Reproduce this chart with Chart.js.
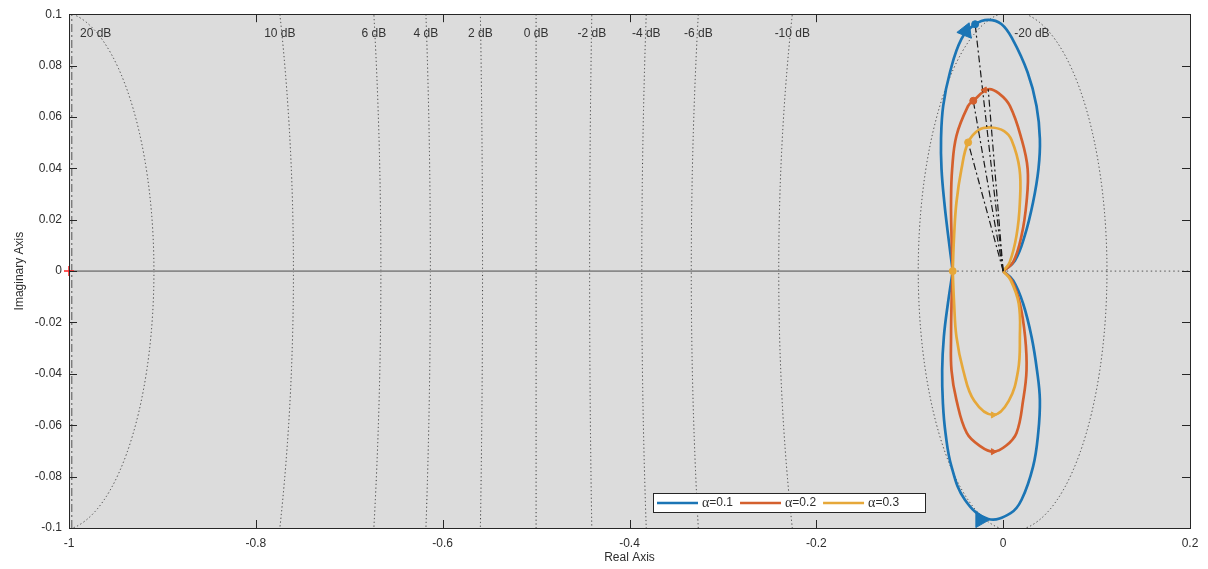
<!DOCTYPE html>
<html>
<head>
<meta charset="utf-8">
<script src="https://cdn.jsdelivr.net/npm/chart.js@4"></script>
<style>
html,body{margin:0;padding:0;background:#fff;}
</style>
</head>
<body>
<canvas id="myChart" width="1208" height="569"></canvas>
<script>
// axis ticks
var xTicks = [-1, -0.8, -0.6, -0.4, -0.2, 0, 0.2];
var yTicks = [-0.1, -0.08, -0.06, -0.04, -0.02, 0, 0.02, 0.04, 0.06, 0.08, 0.1];

// constant gain circles (dB)
var mLevels = [20, 10, 6, 4, 2, 0, -2, -4, -6, -10, -20];

var seriesNames = ['α=0.1', 'α=0.2', 'α=0.3'];

// curves [re, im]
var a01_upper = [[-0.054,0],[-0.0589,0.0139],[-0.063,0.0268],[-0.066,0.0398],[-0.0665,0.0515],[-0.0642,0.0643],[-0.057,0.0773],[-0.0446,0.0904],[-0.030,0.0961],[-0.016,0.0978],[-0.002,0.0962],[0.010,0.0903],[0.0262,0.0773],[0.0357,0.0643],[0.0393,0.0515],[0.0378,0.0398],[0.032,0.0268],[0.0232,0.0139],[0.0125,0.0040],[0,0]];
var a01_lower = [[-0.054,0],[-0.0592,-0.0127],[-0.0635,-0.0256],[-0.0653,-0.0386],[-0.0645,-0.0515],[-0.0617,-0.0631],[-0.0553,-0.0761],[-0.041,-0.089],[-0.016,-0.0965],[0.008,-0.0942],[0.0197,-0.089],[0.032,-0.0761],[0.0375,-0.0631],[0.0393,-0.0502],[0.0362,-0.0386],[0.0304,-0.0256],[0.0214,-0.0127],[0.0107,-0.0036],[0,0]];
var a02_upper = [[-0.054,0],[-0.0553,0.0139],[-0.0558,0.0268],[-0.0546,0.0398],[-0.050,0.0527],[-0.0375,0.0643],[-0.032,0.0663],[-0.016,0.0708],[-0.004,0.069],[0.0072,0.0643],[0.0197,0.0514],[0.0262,0.0398],[0.025,0.0268],[0.0197,0.0139],[0.0107,0.0035],[0,0]];
var a02_lower = [[-0.054,0],[-0.0553,-0.0127],[-0.0558,-0.0256],[-0.0553,-0.0386],[-0.050,-0.0502],[-0.039,-0.063],[-0.025,-0.068],[-0.0107,-0.0703],[0.003,-0.068],[0.0143,-0.063],[0.0214,-0.0502],[0.025,-0.0386],[0.0235,-0.0256],[0.0179,-0.0127],[0.009,-0.0035],[0,0]];
var a03_upper = [[-0.054,0],[-0.0525,0.0139],[-0.050,0.0268],[-0.0446,0.0398],[-0.0375,0.0501],[-0.026,0.055],[-0.0124,0.0559],[0.001,0.0545],[0.009,0.051],[0.0175,0.0398],[0.0179,0.0268],[0.0143,0.0139],[0.007,0.0035],[0,0]];
var a03_lower = [[-0.054,0],[-0.0525,-0.0127],[-0.050,-0.0256],[-0.0428,-0.0386],[-0.031,-0.0505],[-0.0107,-0.056],[0.006,-0.0505],[0.016,-0.0386],[0.0179,-0.0256],[0.0167,-0.0127],[0.008,-0.0035],[0,0]];

// marked points and arrows
var a01_dots = [[-0.030,0.0961]];
var a02_dots = [[-0.032,0.0663]];
var a03_dots = [[-0.0375,0.0501],[-0.054,0]];
var a01_arrows = [[-0.040,0.0934],[-0.0244,-0.0968]];
var a02_arrows = [[-0.0107,-0.0703],[-0.020,0.0705]];
var a03_arrows = [[-0.0107,-0.056]];

// reference lines
var origin = [0, 0];
var criticalPoint = [[-1, 0]];
var realAxisSolid = [[-1,0],[-0.054,0]];
var realAxisDotted = [[-0.054,0],[0.2,0]];
var leftDashDot = [[-0.997,-0.1],[-0.997,0.1]];

var colors = ['#1b75b5', '#d4602e', '#e6a83a'];
var txtColor = '#2e2e2e';

function pts(list) {
  return list.map(function(p){ return {x: p[0], y: p[1]}; });
}
function fmt(v) {
  return String(Math.round(v * 100) / 100);
}

function curve(list, col, ord) {
  return {data: pts(list), showLine: true, borderColor: col, borderWidth: 2.7, pointRadius: 0, tension: 0.4, fill: false, order: ord};
}
function spoke(p) {
  return {data: pts([origin, p]), showLine: true, borderColor: '#1a1a1a', borderWidth: 1.2, borderDash: [7, 3, 2, 3], pointRadius: 0, order: 0.5};
}

var dataset = [
  {data: pts(realAxisSolid), showLine: true, borderColor: '#8a8a8a', borderWidth: 1.6, pointRadius: 0, order: 10},
  {data: pts(realAxisDotted), showLine: true, borderColor: '#555', borderWidth: 1, borderDash: [1.5, 3], pointRadius: 0, order: 10},
  {data: pts(leftDashDot), showLine: true, borderColor: '#555', borderWidth: 1, borderDash: [8, 3, 2, 3], pointRadius: 0, order: 10},
  curve(a01_upper, colors[0], 3), curve(a01_lower, colors[0], 3),
  curve(a02_upper, colors[1], 2), curve(a02_lower, colors[1], 2),
  curve(a03_upper, colors[2], 1), curve(a03_lower, colors[2], 1),
  spoke(a01_dots[0]), spoke(a02_dots[0]), spoke(a03_dots[0]), spoke(a02_upper[7]),
  {data: pts(a01_dots), pointRadius: 3.5, backgroundColor: colors[0], borderColor: colors[0], order: 0},
  {data: pts(a02_dots), pointRadius: 3.5, backgroundColor: colors[1], borderColor: colors[1], order: 0},
  {data: pts(a03_dots), pointRadius: 3.5, backgroundColor: colors[2], borderColor: colors[2], order: 0},
  {data: pts(a01_arrows), pointStyle: 'triangle', pointRadius: 9, rotation: [262, 90], backgroundColor: colors[0], borderColor: colors[0], order: 0},
  {data: pts(a02_arrows), pointStyle: 'triangle', pointRadius: 3.5, rotation: [90, 270], backgroundColor: colors[1], borderColor: colors[1], order: 0},
  {data: pts(a03_arrows), pointStyle: 'triangle', pointRadius: 3.5, rotation: 90, backgroundColor: colors[2], borderColor: colors[2], order: 0},
  {data: pts(criticalPoint), pointStyle: 'cross', pointRadius: 5, borderColor: '#ff2020', borderWidth: 1.5, clip: false, order: 0}
];

// grey plot background
var bgPlugin = {
  id: 'bg',
  beforeDraw: function(chart) {
    var a = chart.chartArea, c = chart.ctx;
    c.save();
    c.fillStyle = '#dcdcdc';
    c.fillRect(a.left, a.top, a.right - a.left, a.bottom - a.top);
    c.restore();
  }
};

// dotted M-circles with dB labels
var mGridPlugin = {
  id: 'mgrid',
  beforeDatasetsDraw: function(chart) {
    var a = chart.chartArea, c = chart.ctx;
    var xs = chart.scales.x, ys = chart.scales.y;
    var yTop = ys.max;
    c.save();
    c.beginPath();
    c.rect(a.left, a.top, a.right - a.left, a.bottom - a.top);
    c.clip();
    c.strokeStyle = '#3a3a3a';
    c.lineWidth = 1;
    c.setLineDash([1.2, 2.6]);
    var labels = [];
    mLevels.forEach(function(db) {
      if (db === 0) {
        var px = xs.getPixelForValue(-0.5);
        c.beginPath(); c.moveTo(px, a.top); c.lineTo(px, a.bottom); c.stroke();
        labels.push([px, '0 dB']);
        return;
      }
      var M = Math.pow(10, db / 20);
      var cen = -M * M / (M * M - 1);
      var r = Math.abs(M / (M * M - 1));
      var cx = xs.getPixelForValue(cen), cy = ys.getPixelForValue(0);
      var rx = Math.abs(xs.getPixelForValue(cen + r) - cx);
      var ry = Math.abs(ys.getPixelForValue(r) - cy);
      c.beginPath(); c.ellipse(cx, cy, rx, ry, 0, 0, Math.PI * 2); c.stroke();
      var s = Math.sqrt(Math.max(r * r - yTop * yTop, 0));
      var xt = (db > 0 || r < 0.2) ? cen + s : cen - s;
      labels.push([xs.getPixelForValue(xt), db + ' dB']);
    });
    c.setLineDash([]);
    c.fillStyle = '#333';
    c.font = '12px "Liberation Sans", Arial, sans-serif';
    c.textBaseline = 'middle';
    c.textAlign = 'center';
    labels.forEach(function(l) {
      var w = c.measureText(l[1]).width;
      var x = Math.max(l[0], a.left + 11 + w / 2);
      if (l[1] === '-20 dB') x += 6;
      c.fillText(l[1], x, a.top + 19);
    });
    c.restore();
  }
};

// box, inward ticks, legend
var framePlugin = {
  id: 'frame',
  afterDraw: function(chart) {
    var a = chart.chartArea, c = chart.ctx;
    var xs = chart.scales.x, ys = chart.scales.y;
    c.save();
    c.strokeStyle = '#262626';
    c.lineWidth = 1;
    c.strokeRect(Math.round(a.left) + 0.5, Math.round(a.top) + 0.5, Math.round(a.right - a.left), Math.round(a.bottom - a.top));
    c.beginPath();
    xTicks.forEach(function(v) {
      var px = Math.round(xs.getPixelForValue(v)) + 0.5;
      c.moveTo(px, a.bottom); c.lineTo(px, a.bottom - 8);
      c.moveTo(px, a.top); c.lineTo(px, a.top + 8);
    });
    yTicks.forEach(function(v) {
      var py = Math.round(ys.getPixelForValue(v)) + 0.5;
      c.moveTo(a.left, py); c.lineTo(a.left + 8, py);
      c.moveTo(a.right, py); c.lineTo(a.right - 8, py);
    });
    c.stroke();

    // legend
    var lx = a.left + 584, ly = a.bottom - 35, lw = 272, lh = 19;
    c.fillStyle = '#fff';
    c.fillRect(lx, ly, lw, lh);
    c.strokeRect(Math.round(lx) + 0.5, Math.round(ly) + 0.5, lw, lh);
    var x = lx + 4, yc = ly + lh / 2 + 0.5;
    c.textBaseline = 'middle';
    c.textAlign = 'left';
    seriesNames.forEach(function(name, i) {
      c.strokeStyle = colors[i];
      c.lineWidth = 2.7;
      c.beginPath(); c.moveTo(x, yc); c.lineTo(x + 41, yc); c.stroke();
      x += 45;
      c.fillStyle = txtColor;
      c.font = '14px "Liberation Serif", serif';
      c.fillText(name.charAt(0), x, yc);
      x += c.measureText(name.charAt(0)).width;
      c.font = '12px "Liberation Sans", Arial, sans-serif';
      c.fillText(name.slice(1), x, yc);
      x += c.measureText(name.slice(1)).width + 7;
    });
    c.restore();
  }
};

var font12 = {family: '"Liberation Sans", Arial, sans-serif', size: 12};

var ctx = document.getElementById('myChart').getContext('2d');
var myChart = new Chart(ctx, {
  type: 'scatter',
  data: { datasets: dataset },
  options: {
    responsive: false,
    animation: false,
    layout: { padding: { top: 13, right: 18, left: 0, bottom: 0 } },
    plugins: { legend: { display: false }, tooltip: { enabled: false } },
    scales: {
      x: {
        type: 'linear', min: -1, max: 0.2,
        afterBuildTicks: function(s){ s.ticks = xTicks.map(function(v){ return {value: v}; }); },
        afterFit: function(s){ s.height = 41; },
        grid: { display: false, drawTicks: false },
        border: { display: false },
        ticks: { padding: 8, color: txtColor, font: font12, maxRotation: 0, autoSkip: false, callback: function(v){ return fmt(v); } },
        title: { display: true, text: 'Real Axis', color: txtColor, font: font12, padding: 4 }
      },
      y: {
        type: 'linear', min: -0.1, max: 0.1,
        afterBuildTicks: function(s){ s.ticks = yTicks.map(function(v){ return {value: v}; }); },
        afterFit: function(s){ s.width = 69; },
        grid: { display: false, drawTicks: false },
        border: { display: false },
        ticks: { padding: 7, color: txtColor, font: font12, autoSkip: false, callback: function(v){ return fmt(v); } },
        title: { display: true, text: 'Imaginary Axis', color: txtColor, font: font12, padding: 12 }
      }
    }
  },
  plugins: [bgPlugin, mGridPlugin, framePlugin]
});
</script>
</body>
</html>
